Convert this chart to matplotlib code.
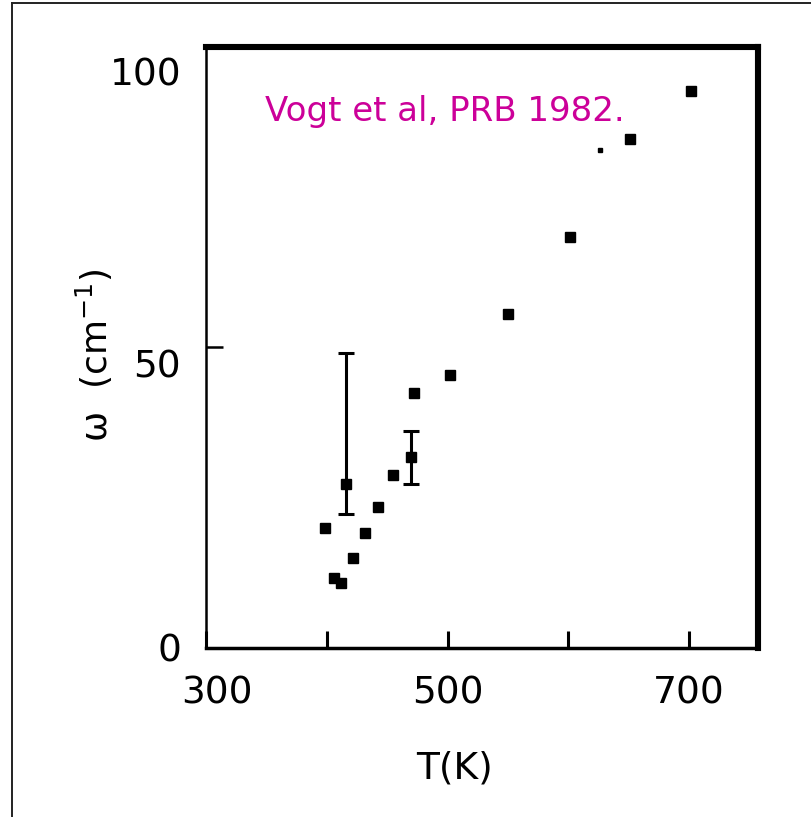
import numpy as np
import matplotlib
matplotlib.use("Agg")
import matplotlib.pyplot as plt
import matplotlib.transforms as mtransforms
from matplotlib.lines import Line2D

# datos (Vogt et al, PRB 1982)
temp_K = [398.9, 405.8, 411.6, 415.7, 421.3, 431.4, 442.4, 454.8,
          470.1, 472.2, 501.7, 550.0, 601.0, 651.2, 701.7]
omega = [19.9, 11.5, 10.8, 27.3, 14.9, 19.0, 23.4, 28.7,
         31.7, 42.4, 45.4, 55.5, 68.4, 84.6, 92.6]

# puntos con barra de error (limites inferior / superior)
err_T = [415.7, 470.1]
err_w = [27.3, 31.7]
err_lo = [22.3, 27.3]
err_hi = [49.1, 36.0]

# punto pequeño suelto
dot_T = [625.8]
dot_w = [82.8]

xticks = [300, 400, 500, 600, 700]
xlabels = ["300", "", "500", "", "700"]
yticks = [0, 50, 100]
ylabels = ["0", "50", "100"]

plt.rcParams["font.family"] = ["DejaVu Sans"]

W, H = 812, 817
fig = plt.figure(figsize=(W / 100, H / 100), dpi=100)
ax = fig.add_axes([206 / W, 1 - 647.5 / H, 552 / W, 600.5 / H])

ax.plot(temp_K, omega, "s", color="black", markersize=6.8, zorder=3)
ax.plot(dot_T, dot_w, "s", color="black", markersize=2.2)
yerr = [np.array(err_w) - np.array(err_lo), np.array(err_hi) - np.array(err_w)]
ax.errorbar(err_T, err_w, yerr=yerr, fmt="none", ecolor="black",
            elinewidth=2.2, capsize=5.5, capthick=2.2)

ax.set_xlim(300, 757)
ax.set_ylim(0, 100)

for side, lw in [("left", 1.8), ("bottom", 2.5), ("top", 4.4), ("right", 4.4)]:
    ax.spines[side].set_linewidth(lw)

ax.set_xticks(xticks, labels=xlabels)
ax.set_yticks(yticks, labels=ylabels)
ax.tick_params(axis="x", direction="in", length=12, width=2.2, pad=20, labelsize=27)
ax.tick_params(axis="y", direction="in", length=12, width=1.8, pad=18, labelsize=27)

# desplazamientos de las etiquetas como en el original
shift_y = {"0": 0, "50": -16, "100": -25}
for lbl, txt in zip(ax.get_yticklabels(), ylabels):
    off = mtransforms.ScaledTranslation(0, shift_y[txt] / 100, fig.dpi_scale_trans)
    lbl.set_transform(lbl.get_transform() + off)
lbl0 = ax.get_xticklabels()[0]
lbl0.set_transform(lbl0.get_transform() +
                   mtransforms.ScaledTranslation(11 / 100, 0, fig.dpi_scale_trans))

ax.set_xlabel("T(K)", fontsize=27)
ax.xaxis.set_label_coords(0.451, -0.172)
ax.xaxis.label.set_verticalalignment("top")
ax.set_ylabel("ω  (cm$^{\\mathregular{-1}}$)", fontsize=26)
ax.yaxis.set_label_coords(-0.165, 0.487)

ax.text(0.107, 0.892, "Vogt et al, PRB 1982.", transform=ax.transAxes,
        color="#cc0099", fontsize=24.5, ha="left", va="center")

# marco de la figura
fig.add_artist(Line2D([11.7 / W, 11.7 / W], [0, 1 - 3.3 / H],
                      transform=fig.transFigure, color="#222222", lw=1.4))
fig.add_artist(Line2D([11.7 / W, 1], [1 - 3.3 / H, 1 - 3.3 / H],
                      transform=fig.transFigure, color="#222222", lw=1.4))

fig.savefig("out.png", dpi=100, facecolor="white")
